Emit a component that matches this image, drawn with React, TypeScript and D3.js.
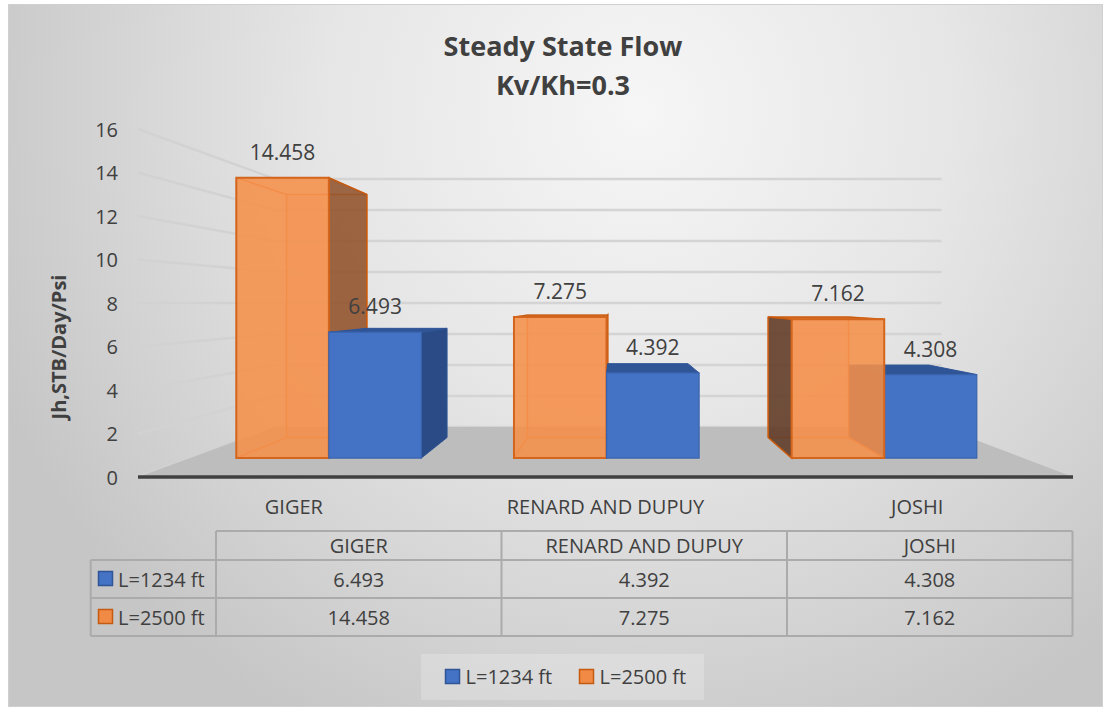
import React from "react";
import * as d3 from "d3";

const categories = ["GIGER", "RENARD AND DUPUY", "JOSHI"];
const seriesNames = ["L=1234 ft", "L=2500 ft"];
const valuesL1234 = [6.493, 4.392, 4.308];
const valuesL2500 = [14.458, 7.275, 7.162];
const yTicks = [0, 2, 4, 6, 8, 10, 12, 14, 16];
const titleLines = ["Steady State Flow", "Kv/Kh=0.3"];
const yAxisTitle = "Jh,STB/Day/Psi";

const W = 1111;
const H = 711;
const FONT = "'Open Sans', 'DejaVu Sans', sans-serif";
const TXT = "#404040";

type Pt = [number, number];

export default function App() {
  const x = d3.scaleBand<string>().domain(categories).range([138, 1073]).paddingInner(0).paddingOuter(0);
  const barOrder = [seriesNames[1], seriesNames[0]];
  const sub = d3.scaleBand<string>().domain(barOrder).range([0, x.bandwidth()]).paddingInner(0).paddingOuter(0.5);
  const y = d3.scaleLinear().domain([0, 16]).range([477, 129]);
  const eyeV = 8;
  const VPx = 615;
  const VPy = y(eyeV);
  const k = 0.4025;
  const sOf = (z: number) => 1 / (1 + k * z);
  const P = (xf: number, v: number, z: number): Pt => {
    const s = sOf(z);
    return [VPx + (xf - VPx) * s, VPy + (y(v) - VPy) * s];
  };
  const line = d3.line<Pt>().x((d) => d[0]).y((d) => d[1]);
  const poly = (pts: Pt[]) => (line(pts) || "") + "Z";

  const zBack = 1;
  const zB0 = 0.304;
  const zB1 = 0.73;
  const [x0, x1] = x.range();

  const bars: any[] = [];
  categories.forEach((c, i) => {
    [
      { series: seriesNames[1], value: valuesL2500[i], kind: "orange" },
      { series: seriesNames[0], value: valuesL1234[i], kind: "blue" },
    ].forEach((b) => {
      const bx0 = (x(c) as number) + (sub(b.series) as number);
      const bx1 = bx0 + sub.bandwidth();
      bars.push({ ...b, bx0, bx1, cat: c });
    });
  });
  const drawOrder = [...bars].sort(
    (a, b) => Math.abs((b.bx0 + b.bx1) / 2 - VPx) - Math.abs((a.bx0 + a.bx1) / 2 - VPx)
  );

  const renderBar = (b: any, idx: number) => {
    const { bx0, bx1, value } = b;
    const f = [P(bx0, 0, zB0), P(bx1, 0, zB0), P(bx1, value, zB0), P(bx0, value, zB0)];
    const bk = [P(bx0, 0, zB1), P(bx1, 0, zB1), P(bx1, value, zB1), P(bx0, value, zB1)];
    const right = [f[1], bk[1], bk[2], f[2]];
    const left = [f[0], bk[0], bk[3], f[3]];
    const top = [f[3], f[2], bk[2], bk[3]];
    const showRight = bx1 < VPx;
    const showLeft = bx0 > VPx;
    const showTop = value < eyeV;
    if (b.kind === "blue") {
      return (
        <g key={idx}>
          {showRight && <path d={poly(right)} fill="#2A4B85" stroke="#2F5597" strokeWidth={1} />}
          {showLeft && <path d={poly(left)} fill="#2A4B85" stroke="#2F5597" strokeWidth={1} />}
          {showTop && <path d={poly(top)} fill="#2F5597" stroke="#2F5597" strokeWidth={1} />}
          <path d={poly(f)} fill="#4472C4" stroke="#3A63AD" strokeWidth={1.2} />
        </g>
      );
    }
    const edges: Pt[][] = [
      [bk[0], bk[1]],
      [bk[1], bk[2]],
      [bk[2], bk[3]],
      [bk[3], bk[0]],
      [f[0], bk[0]],
      [f[1], bk[1]],
      [f[2], bk[2]],
      [f[3], bk[3]],
    ];
    return (
      <g key={idx}>
        <path d={poly(bk)} fill="#ED7D31" fillOpacity={0.12} stroke="none" />
        {edges.map((e, j) => (
          <path key={j} d={line(e) || ""} stroke="#E5772F" strokeWidth={1.6} strokeOpacity={0.85} fill="none" />
        ))}
        {showRight && <path d={poly(right)} fill="#8E4F27" fillOpacity={0.85} stroke="#C55A11" strokeWidth={1.5} />}
        {showLeft && <path d={poly(left)} fill="#5E3A25" fillOpacity={0.88} stroke="#C55A11" strokeWidth={1.5} />}
        {showTop && <path d={poly(top)} fill="#E07A35" fillOpacity={0.9} stroke="#C55A11" strokeWidth={1.2} />}
        <path d={poly(f)} fill="#F5904A" fillOpacity={0.88} stroke="#D4651C" strokeWidth={2} />
      </g>
    );
  };

  // table geometry
  const tL = 90.7;
  const tC0 = 216;
  const tR = 1072.5;
  const rowY = [531, 560, 598, 636];
  const col = d3.scaleBand<string>().domain(categories).range([tC0, tR]);
  const tableStroke = "#ABABAB";

  const legendItems = [
    { name: seriesNames[0], fill: "#4472C4", stroke: "#2F5597" },
    { name: seriesNames[1], fill: "#F08A45", stroke: "#C55A11" },
  ];

  return (
    <svg
      width={W}
      height={H}
      style={{ position: "absolute", left: 0, top: 0 }}
      fontFamily={FONT}
    >
      <defs>
        <radialGradient id="bg" gradientUnits="userSpaceOnUse" cx={640} cy={110} r={700}>
          <stop offset="0" stopColor="#f6f6f6" />
          <stop offset="0.45" stopColor="#e6e6e6" />
          <stop offset="1" stopColor="#c6c6c6" />
        </radialGradient>
      </defs>
      <rect x={8.5} y={4.5} width={1094} height={702} fill="url(#bg)" stroke="#d0d0d0" strokeWidth={1} />

      {/* Title */}
      {titleLines.map((t, i) => (
        <text key={i} x={563} y={45 + i * 39} textAnchor="middle" dominantBaseline="central" fontSize={27} fontWeight="bold" fill={TXT}>
          {t}
        </text>
      ))}

      {/* Y axis title */}
      <text
        transform={`translate(58,347) rotate(-90)`}
        textAnchor="middle"
        dominantBaseline="central"
        fontSize={20}
        fontWeight="bold"
        fill={TXT}
      >
        {yAxisTitle}
      </text>

      {/* gridlines */}
      {yTicks.map((v) => (
        <g key={v}>
          <path d={line([P(x0, v, 0), P(x0, v, zBack)]) || ""} stroke="#d2d2d2" strokeWidth={2.4} fill="none" />
          <path d={line([P(x0, v, zBack), P(x1, v, zBack)]) || ""} stroke="#d4d4d4" strokeWidth={2.4} fill="none" />
        </g>
      ))}

      {/* floor */}
      <path d={poly([P(x0, 0, 0), P(x1, 0, 0), P(x1, 0, zBack), P(x0, 0, zBack)])} fill="#bdbdbd" />

      {/* Y tick labels */}
      {yTicks.map((v) => (
        <text key={v} x={118} y={y(v)} textAnchor="end" dominantBaseline="central" fontSize={20} fill={TXT}>
          {v}
        </text>
      ))}

      {/* bars */}
      {drawOrder.map((b, i) => renderBar(b, i))}

      {/* axis line */}
      <path d={line([P(x0, 0, 0), P(x1, 0, 0)]) || ""} stroke="#404040" strokeWidth={3.5} fill="none" />

      {/* data labels */}
      {bars.map((b, i) => {
        const p = P((b.bx0 + b.bx1) / 2, b.value, zB0);
        return (
          <text key={i} x={p[0]} y={p[1] - 26} textAnchor="middle" dominantBaseline="central" fontSize={21} fill={TXT}>
            {b.value.toFixed(3)}
          </text>
        );
      })}

      {/* category labels */}
      {categories.map((c) => (
        <text key={c} x={(x(c) as number) + x.bandwidth() / 2} y={506} textAnchor="middle" dominantBaseline="central" fontSize={20} fill={TXT}>
          {c}
        </text>
      ))}

      {/* data table */}
      <g stroke={tableStroke} strokeWidth={2} fill="none">
        <path d={`M${tC0},${rowY[0]}H${tR}`} />
        <path d={`M${tL},${rowY[1]}H${tR}`} />
        <path d={`M${tL},${rowY[2]}H${tR}`} />
        <path d={`M${tL},${rowY[3]}H${tR}`} />
        <path d={`M${tL},${rowY[1]}V${rowY[3]}`} />
        {[tC0, ...categories.map((c) => (col(c) as number) + col.bandwidth())].map((cx, i) => (
          <path key={i} d={`M${cx},${rowY[0]}V${rowY[3]}`} />
        ))}
      </g>
      {categories.map((c) => (
        <text key={c} x={(col(c) as number) + col.bandwidth() / 2} y={(rowY[0] + rowY[1]) / 2} textAnchor="middle" dominantBaseline="central" fontSize={20} fill={TXT}>
          {c}
        </text>
      ))}
      {[valuesL1234, valuesL2500].map((vals, r) => {
        const cy = (rowY[r + 1] + rowY[r + 2]) / 2;
        const item = legendItems[r];
        return (
          <g key={r}>
            <rect x={98.5} y={cy - 7.5} width={14} height={14} fill={item.fill} stroke={item.stroke} strokeWidth={1.5} />
            <text x={118} y={cy} dominantBaseline="central" fontSize={20} fill={TXT}>
              {item.name}
            </text>
            {vals.map((v, j) => (
              <text key={j} x={(col(categories[j]) as number) + col.bandwidth() / 2} y={cy} textAnchor="middle" dominantBaseline="central" fontSize={20} fill={TXT}>
                {v.toFixed(3)}
              </text>
            ))}
          </g>
        );
      })}

      {/* legend */}
      <rect x={421} y={654} width={283} height={46} fill="#ffffff" fillOpacity={0.22} />
      {legendItems.map((it, i) => {
        const lx = 445.5 + i * 134;
        return (
          <g key={i}>
            <rect x={lx} y={669.5} width={14} height={14} fill={it.fill} stroke={it.stroke} strokeWidth={1.5} />
            <text x={lx + 20} y={676.5} dominantBaseline="central" fontSize={20} fill={TXT}>
              {it.name}
            </text>
          </g>
        );
      })}
    </svg>
  );
}
